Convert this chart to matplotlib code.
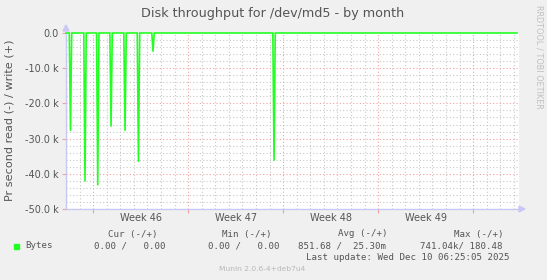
import matplotlib
matplotlib.use('Agg')
import matplotlib.pyplot as plt
from matplotlib.patches import Polygon, Rectangle

# days counted from Sat Nov 8 2025 00:00
spike_day = [0.33, 1.40, 2.34, 3.32, 4.35, 5.34, 6.41, 15.33]
spike_read = [-27800, -42200, -43300, -26600, -27800, -36600, -5300, -36300]
week_start = [2, 9, 16, 23, 30]
week_label = ['Week 46', 'Week 47', 'Week 48', 'Week 49']
week_label_pos = [5.5, 12.5, 19.5, 26.5]
x_end = 33.38

legend_head = ['Cur (-/+)', 'Min (-/+)', 'Avg (-/+)', 'Max (-/+)']
legend_vals = ['0.00 /   0.00', '0.00 /   0.00', '851.68 /  25.30m', '741.04k/ 180.48']

BG = '#f0f0f0'
TXT = '#555555'
GREEN = '#22ff22'
MGRID = '#f4a0a0'
GRID = '#c8c8c8'
AXIS = '#c8c8f4'

fig = plt.figure(figsize=(5.47, 2.80), dpi=100, facecolor=BG)
L, R, T, B = 66, 519, 33, 209
ax = fig.add_axes([L / 547, 1 - B / 280, (R - L) / 547, (B - T) / 280])
ax.set_facecolor('white')
ax.set_xlim(0, x_end)
ax.set_ylim(-50000, 0)

# grid
for d in range(0, 34):
    if d in week_start:
        continue
    ax.axvline(d, color=GRID, lw=0.8, ls=(0, (1, 2)), zorder=1)
for yv in range(-48000, 0, 2000):
    if yv % 10000 == 0:
        continue
    ax.axhline(yv, color=GRID, lw=0.8, ls=(0, (1, 2)), zorder=1)
for d in week_start:
    ax.axvline(d, color=MGRID, lw=0.8, ls=(0, (1, 2)), zorder=2)
for yv in range(-40000, 0, 10000):
    ax.axhline(yv, color=MGRID, lw=0.8, ls=(0, (1, 2)), zorder=2)

# read series (negative)
t = [0.0]
v = [0.0]
for d, val in zip(spike_day, spike_read):
    t += [d - 0.09, d, d + 0.09]
    v += [0, val, 0]
t.append(x_end - 0.15)
v.append(0)
ax.plot(t, v, color=GREEN, lw=1.2, zorder=4, clip_on=False, solid_joinstyle='miter')

for s in ax.spines.values():
    s.set_visible(False)
ax.plot([0, 0], [-50000, 0], color=AXIS, lw=1, clip_on=False, zorder=3)
ax.plot([0, x_end], [-50000, -50000], color=AXIS, lw=1, clip_on=False, zorder=3)

ax.set_yticks(range(-50000, 1, 10000))
ax.set_yticklabels(['-50.0 k', '-40.0 k', '-30.0 k', '-20.0 k', '-10.0 k', '0.0'])
ax.set_xticks(week_label_pos)
ax.set_xticklabels(week_label)
ax.set_xticks(week_start, minor=True)
ax.tick_params(axis='x', which='major', length=0, pad=3, labelsize=7, colors=TXT)
ax.tick_params(axis='x', which='minor', length=3, width=0.8, color=MGRID)
ax.tick_params(axis='y', length=3, width=0.8, color=MGRID, pad=2, labelsize=7, colors=TXT)

# axis arrows
fig.patches.append(Polygon([[63 / 547, 1 - 31 / 280], [69 / 547, 1 - 31 / 280], [66 / 547, 1 - 25 / 280]],
                           closed=True, transform=fig.transFigure, color=AXIS))
fig.patches.append(Polygon([[519 / 547, 1 - 206 / 280], [519 / 547, 1 - 212 / 280], [525 / 547, 1 - 209 / 280]],
                           closed=True, transform=fig.transFigure, color=AXIS))

fig.text(273 / 547, 1 - 14 / 280, 'Disk throughput for /dev/md5 - by month',
         ha='center', va='center', fontsize=9.2, color=TXT)
fig.text(10 / 547, 1 - 120 / 280, 'Pr second read (-) / write (+)', rotation=90,
         ha='center', va='center', fontsize=8.1, color=TXT)
fig.text(539 / 547, 1 - 57 / 280, 'RRDTOOL / TOBI OETIKER', rotation=270,
         ha='center', va='center', fontsize=5.9, color='#c0c0c0')

# legend
mono = dict(family='DejaVu Sans Mono', fontsize=6.6, color=TXT, va='center')
for txt, xr in zip(legend_head, [157, 272, 387, 503]):
    fig.text(xr / 547, 1 - 234 / 280, txt, ha='right', **mono)
fig.patches.append(Rectangle((14 / 547, 1 - 249 / 280), 5 / 547, 5 / 280,
                             transform=fig.transFigure, color=GREEN))
fig.text(25 / 547, 1 - 246 / 280, 'Bytes', ha='left', **mono)
for txt, xr in zip(legend_vals, [166, 279, 386, 503]):
    fig.text(xr / 547, 1 - 246 / 280, txt, ha='right', **mono)
fig.text(509 / 547, 1 - 258 / 280, 'Last update: Wed Dec 10 06:25:05 2025', ha='right', **mono)
fig.text(262 / 547, 1 - 269 / 280, 'Munin 2.0.6-4+deb7u4', ha='center', va='center',
         fontsize=5.4, color='#b8b8b8')

fig.savefig('out.png', dpi=100, facecolor=BG)
